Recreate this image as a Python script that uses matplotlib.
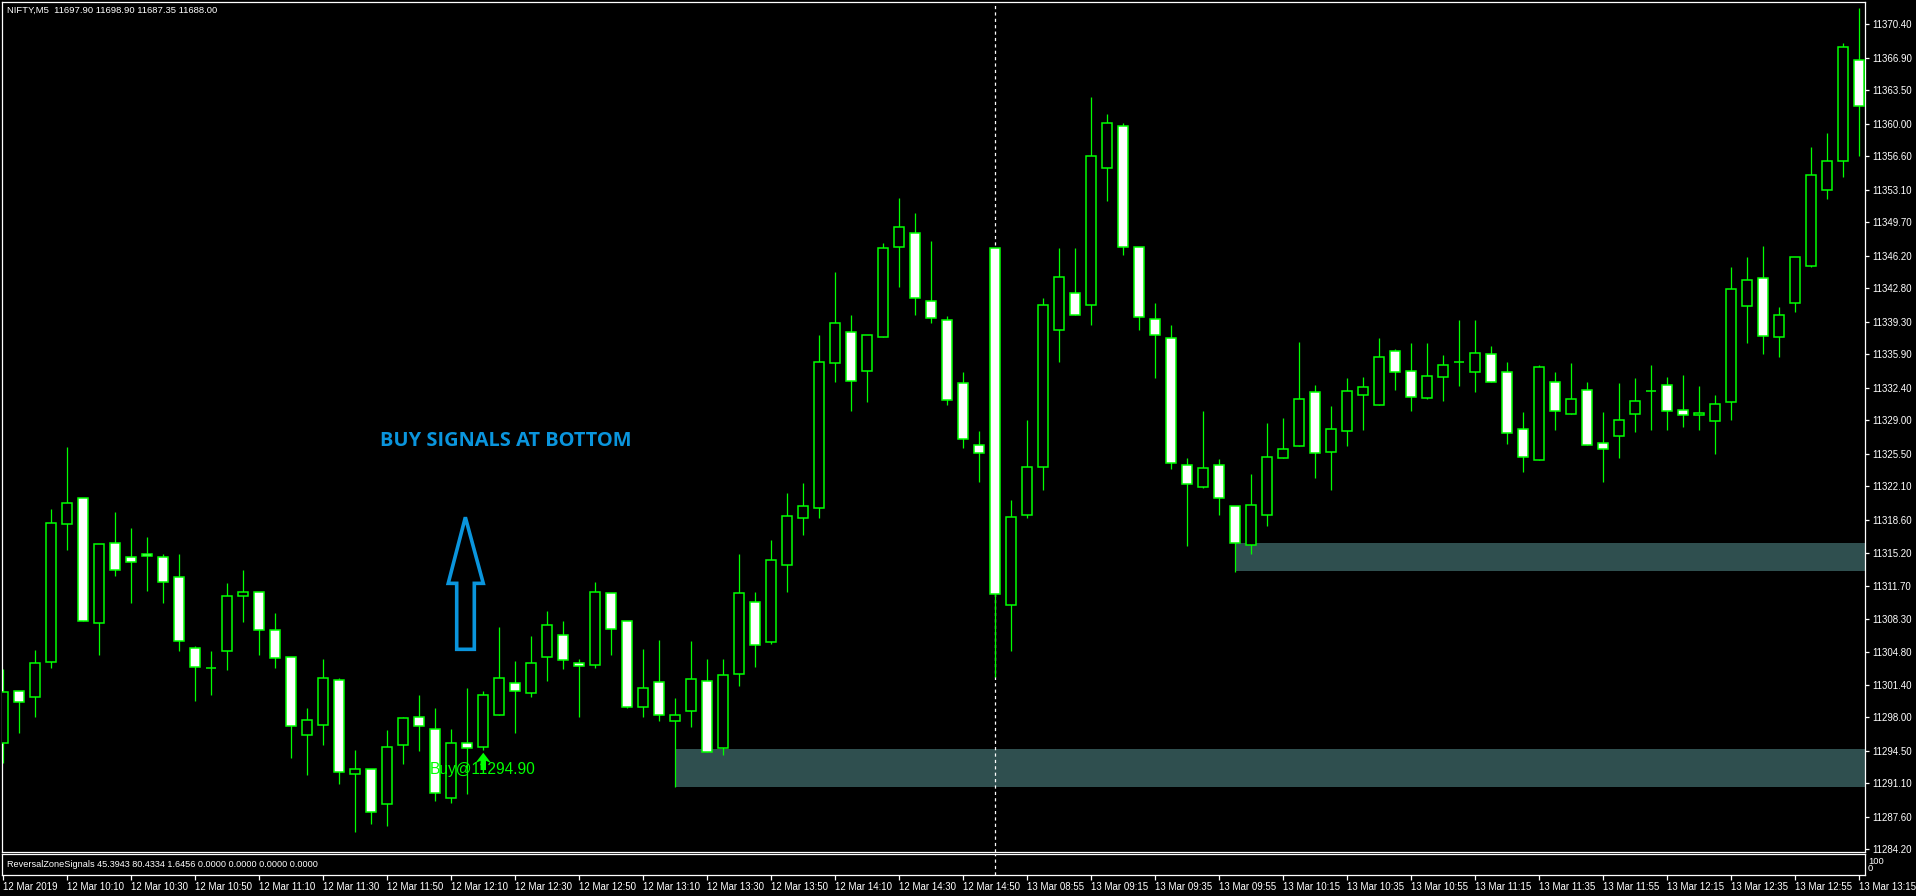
import matplotlib
matplotlib.use("Agg")
import matplotlib.pyplot as plt
from matplotlib.patches import Polygon, Rectangle

plt.rcParams['font.family'] = ['Liberation Sans', 'DejaVu Sans']
plt.rcParams['lines.scale_dashes'] = False

# NIFTY M5 candles (one per 5 minutes)
opens = [
    11295.27, 11300.77, 11300.08, 11303.73, 11318.15, 11320.86, 11307.81, 11316.23, 11314.70, 11315.01,
    11314.70, 11312.61, 11305.19, 11303.17, 11304.88, 11310.63, 11311.04, 11307.08, 11304.26, 11296.11,
    11297.16, 11301.85, 11292.07, 11292.56, 11288.90, 11295.06, 11297.99, 11296.80, 11289.53, 11295.34,
    11294.92, 11298.27, 11301.54, 11300.49, 11304.25, 11306.54, 11303.63, 11303.48, 11310.93, 11308.02,
    11299.10, 11301.65, 11297.65, 11298.63, 11301.76, 11294.81, 11302.48, 11310.00, 11305.82, 11313.89,
    11318.77, 11319.85, 11334.96, 11338.28, 11334.12, 11337.67, 11347.16, 11348.53, 11341.43, 11339.44,
    11332.87, 11326.47, 11346.96, 11309.67, 11319.17, 11324.16, 11338.41, 11342.34, 11341.01, 11355.38,
    11359.72, 11347.16, 11339.57, 11337.59, 11324.31, 11322.07, 11324.31, 11320.03, 11315.95, 11319.09,
    11325.04, 11326.29, 11331.93, 11325.67, 11327.86, 11331.62, 11330.58, 11336.22, 11334.13, 11331.31,
    11333.50, 11335.07, 11334.02, 11335.90, 11334.02, 11328.07, 11324.90, 11332.96, 11329.64, 11332.13,
    11326.69, 11327.40, 11329.71, 11332.03, 11332.66, 11330.04, 11329.52, 11328.97, 11330.94, 11340.98,
    11343.85, 11337.66, 11341.31, 11345.16, 11353.02, 11356.05, 11366.60]
highs = [
    11303.03, 11300.77, 11305.02, 11319.74, 11326.22, 11320.86, 11316.06, 11319.40, 11317.76, 11316.82,
    11315.04, 11315.04, 11305.44, 11304.91, 11312.02, 11313.37, 11311.04, 11308.88, 11304.26, 11298.96,
    11304.08, 11302.06, 11294.57, 11292.56, 11296.66, 11298.05, 11300.32, 11298.93, 11296.77, 11301.05,
    11300.74, 11307.41, 11303.88, 11306.47, 11309.09, 11308.05, 11304.03, 11312.12, 11310.93, 11308.02,
    11305.10, 11306.07, 11299.99, 11305.97, 11304.03, 11304.03, 11315.03, 11311.08, 11316.51, 11321.40,
    11322.44, 11337.91, 11344.50, 11340.02, 11337.88, 11347.54, 11352.25, 11350.67, 11347.75, 11339.89,
    11334.08, 11327.88, 11346.96, 11320.70, 11329.04, 11341.79, 11347.01, 11346.96, 11362.78, 11361.00,
    11360.05, 11347.16, 11341.26, 11338.94, 11325.07, 11329.98, 11324.97, 11320.03, 11323.40, 11328.73,
    11329.25, 11337.19, 11332.70, 11330.50, 11333.43, 11333.53, 11337.61, 11336.46, 11337.08, 11337.08,
    11335.83, 11339.49, 11339.49, 11336.77, 11335.10, 11329.88, 11334.79, 11334.04, 11335.01, 11333.00,
    11329.87, 11332.92, 11333.44, 11334.79, 11333.52, 11333.74, 11332.58, 11331.65, 11345.01, 11346.06,
    11347.20, 11340.83, 11346.06, 11357.55, 11359.03, 11368.40, 11372.08]
lows = [
    11293.25, 11296.38, 11298.05, 11303.17, 11315.49, 11308.05, 11304.50, 11312.78, 11309.96, 11311.21,
    11309.96, 11304.94, 11299.72, 11300.35, 11302.96, 11307.97, 11304.50, 11303.17, 11293.77, 11291.96,
    11295.13, 11291.05, 11286.04, 11286.81, 11286.67, 11293.08, 11294.50, 11289.21, 11289.01, 11290.01,
    11294.57, 11298.20, 11296.40, 11300.14, 11301.73, 11303.05, 11298.05, 11303.13, 11304.50, 11298.99,
    11298.05, 11297.62, 11290.71, 11297.01, 11294.41, 11294.09, 11301.29, 11303.27, 11305.68, 11311.11,
    11316.98, 11318.85, 11332.98, 11330.02, 11330.97, 11337.67, 11342.95, 11340.06, 11339.19, 11330.57,
    11326.15, 11322.56, 11302.23, 11304.96, 11318.84, 11321.69, 11335.15, 11340.06, 11338.99, 11351.96,
    11346.30, 11338.49, 11333.46, 11323.95, 11315.91, 11321.97, 11319.15, 11313.20, 11315.08, 11318.00,
    11325.04, 11326.29, 11323.01, 11321.76, 11326.36, 11328.03, 11330.58, 11332.21, 11330.01, 11331.20,
    11331.06, 11332.62, 11332.00, 11332.98, 11326.57, 11323.64, 11324.90, 11328.04, 11329.64, 11326.39,
    11322.59, 11325.12, 11327.74, 11328.04, 11328.04, 11328.26, 11328.04, 11325.53, 11329.08, 11337.09,
    11335.98, 11335.57, 11340.27, 11345.01, 11352.17, 11354.44, 11356.65]
closes = [
    11300.66, 11299.56, 11303.63, 11318.25, 11320.34, 11308.05, 11316.06, 11313.34, 11314.18, 11314.80,
    11312.15, 11305.93, 11303.21, 11303.17, 11310.63, 11311.04, 11307.11, 11304.15, 11297.05, 11297.68,
    11302.06, 11292.24, 11292.56, 11288.06, 11294.86, 11297.88, 11297.05, 11290.05, 11295.27, 11294.78,
    11300.29, 11302.05, 11300.71, 11303.66, 11307.59, 11303.95, 11303.31, 11311.04, 11307.19, 11299.10,
    11301.01, 11298.27, 11298.20, 11301.94, 11294.41, 11302.36, 11310.93, 11305.53, 11314.39, 11318.99,
    11320.04, 11335.07, 11339.13, 11333.08, 11337.88, 11346.96, 11349.15, 11341.75, 11339.65, 11331.18,
    11327.01, 11325.56, 11310.91, 11318.88, 11324.08, 11341.01, 11343.95, 11340.06, 11356.58, 11360.01,
    11347.08, 11339.85, 11337.88, 11324.50, 11322.33, 11324.00, 11320.86, 11316.16, 11320.13, 11325.14,
    11325.98, 11331.20, 11325.56, 11328.07, 11332.04, 11332.46, 11335.59, 11334.02, 11331.41, 11333.61,
    11334.75, 11335.07, 11336.01, 11332.98, 11327.65, 11325.14, 11334.57, 11330.01, 11331.20, 11326.39,
    11325.98, 11329.00, 11330.98, 11332.03, 11330.01, 11329.52, 11329.82, 11330.68, 11342.69, 11343.62,
    11337.85, 11339.97, 11346.06, 11354.59, 11356.05, 11367.99, 11361.80]

# time axis labels, one every 4 bars
time_labels = [
    "12 Mar 2019", "12 Mar 10:10", "12 Mar 10:30", "12 Mar 10:50", "12 Mar 11:10",
    "12 Mar 11:30", "12 Mar 11:50", "12 Mar 12:10", "12 Mar 12:30", "12 Mar 12:50",
    "12 Mar 13:10", "12 Mar 13:30", "12 Mar 13:50", "12 Mar 14:10", "12 Mar 14:30",
    "12 Mar 14:50", "13 Mar 08:55", "13 Mar 09:15", "13 Mar 09:35", "13 Mar 09:55",
    "13 Mar 10:15", "13 Mar 10:35", "13 Mar 10:55", "13 Mar 11:15", "13 Mar 11:35",
    "13 Mar 11:55", "13 Mar 12:15", "13 Mar 12:35", "13 Mar 12:55", "13 Mar 13:15"]
label_step = 4

price_ticks = [11370.40, 11366.90, 11363.50, 11360.00, 11356.60, 11353.10, 11349.70,
               11346.20, 11342.80, 11339.30, 11335.90, 11332.40, 11329.00, 11325.50,
               11322.10, 11318.60, 11315.20, 11311.70, 11308.30, 11304.80, 11301.40,
               11298.00, 11294.50, 11291.10, 11287.60, 11284.20]

# reversal zones: (start bar, low, high)
zones = [(42, 11290.74, 11294.68), (77, 11313.27, 11316.19)]
day_break_bar = 62
buy_bar = 30
buy_price = 11294.90

header = "NIFTY,M5  11697.90 11698.90 11687.35 11688.00"
indicator_txt = "ReversalZoneSignals 45.3943 80.4334 1.6456 0.0000 0.0000 0.0000 0.0000"

W, H = 1916, 896
fig = plt.figure(figsize=(W / 100, H / 100), dpi=100, facecolor='black')
px = lambda v: v / W
py = lambda v: 1 - v / H

ax = fig.add_axes([px(2), py(852), px(1865) - px(2), py(2) - py(852)])
ax2 = fig.add_axes([px(2), py(875), px(1865) - px(2), py(854) - py(875)], sharex=ax)

LIME = '#00FF00'
WHITE = '#FFFFFF'
BLUE = '#0A95DD'

for a in (ax, ax2):
    a.set_facecolor('black')
    for s in a.spines.values():
        s.set_color(WHITE)
        s.set_linewidth(0.9)

n = len(opens)
xs = list(range(n))
ax.set_xlim(-0.08, 116.36)
ax.set_ylim(11283.92, 11372.70)

# wicks then bodies (up = hollow, down = white)
ax.vlines(xs, lows, highs, color=LIME, linewidth=0.9, zorder=2)
bottoms = [min(o, c) for o, c in zip(opens, closes)]
heights = [abs(c - o) for o, c in zip(opens, closes)]
fills = ['black' if c >= o else WHITE for o, c in zip(opens, closes)]
ax.bar(xs, heights, bottom=bottoms, width=0.62, color=fills, edgecolor=LIME,
       linewidth=1.1, zorder=3)

for start, lo, hi in zones:
    ax.add_patch(Rectangle((start, lo), 200, hi - lo, facecolor='#2F4F4F',
                           edgecolor='none', zorder=1))

for a in (ax, ax2):
    a.axvline(day_break_bar, color=WHITE, linewidth=0.9, linestyle=(0, (2.3, 2.3)), zorder=1.5)

# blue hand-drawn style arrow + caption
arrow_pts = [(28.34, 11305.09), (28.34, 11311.98), (27.81, 11311.98), (28.88, 11318.88),
             (30.0, 11311.98), (29.44, 11311.98), (29.44, 11305.09)]
ax.add_patch(Polygon(arrow_pts, closed=True, fill=False, edgecolor=BLUE, linewidth=2.6,
                     joinstyle='miter', zorder=4))
ax.text(23.54, 11326.36, "BUY SIGNALS AT BOTTOM", color=BLUE, fontsize=14.4,
        fontweight='bold', family=['Open Sans', 'DejaVu Sans'], va='baseline', ha='left', zorder=4)

# buy signal
ax.text(26.67, 11292.05, "Buy@%.2f" % buy_price, color=LIME, fontsize=11.2,
        family=['Liberation Sans', 'DejaVu Sans'], va='baseline', ha='left', zorder=6)
bx = buy_bar
buy_arrow = [(bx, 11294.29), (bx + 0.5, 11293.20), (bx + 0.17, 11293.45), (bx + 0.17, 11292.48),
             (bx - 0.17, 11292.48), (bx - 0.17, 11293.45), (bx - 0.5, 11293.20)]
ax.add_patch(Polygon(buy_arrow, closed=True, facecolor=LIME, edgecolor='none', zorder=7))

# price axis on the right
ax.yaxis.tick_right()
ax.set_yticks(price_ticks)
ax.set_yticklabels(["%.2f" % v for v in price_ticks])
ax.tick_params(axis='y', colors=WHITE, labelcolor=WHITE, labelsize=7, length=3,
               width=0.9, pad=2)
ax.tick_params(axis='x', bottom=False, labelbottom=False)

# indicator sub-window
ax2.set_ylim(0, 100)
ax2.set_yticks([])
tick_pos = list(range(0, n, label_step))
ax2.set_xticks(tick_pos)
ax2.set_xticklabels(time_labels)
ax2.tick_params(axis='x', colors=WHITE, labelcolor=WHITE, labelsize=7, length=3.5,
                width=0.9, pad=1.5)
for lab in ax2.get_xticklabels():
    lab.set_ha('left')
ax2.text(px(4.7) / (px(1865) - px(2)), 0.5, indicator_txt, transform=ax2.transAxes,
         color=WHITE, fontsize=6.6, va='center', ha='left')
fig.text(px(1868), py(861.5), "100", color=WHITE, fontsize=6.8, va='center', ha='left')
fig.text(px(1868), py(868.5), "0", color=WHITE, fontsize=6.8, va='center', ha='left')

fig.text(px(7), py(10.5), header, color=WHITE, fontsize=6.8, va='center', ha='left')

fig.savefig('out.png', dpi=100, facecolor='black')
